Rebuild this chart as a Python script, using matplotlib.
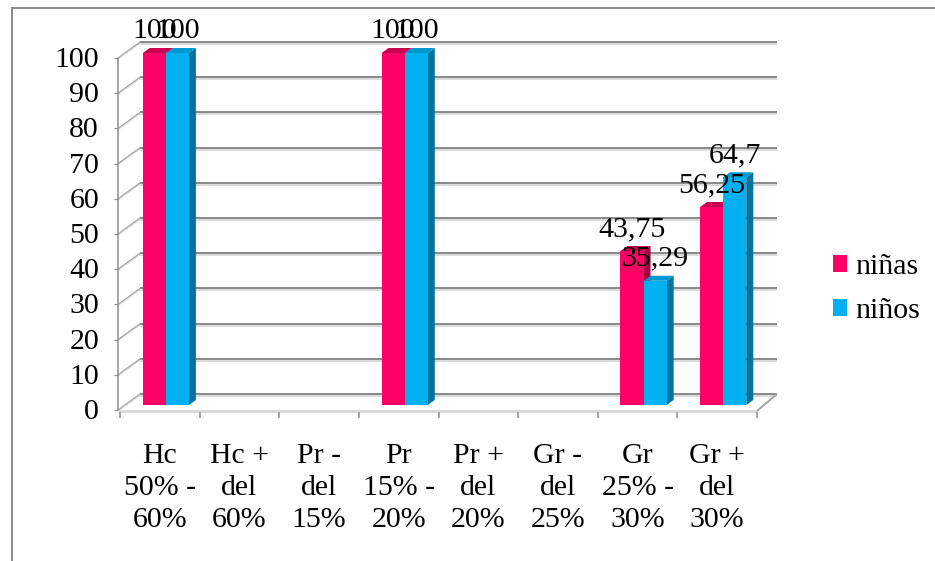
import numpy as np
import matplotlib
matplotlib.use("Agg")
import matplotlib.pyplot as plt
from matplotlib.patches import Polygon, Patch
from matplotlib.lines import Line2D

# ---- data ----
categories = ["Hc\n50% -\n60%", "Hc +\ndel\n60%", "Pr -\ndel\n15%", "Pr\n15% -\n20%",
              "Pr +\ndel\n20%", "Gr -\ndel\n25%", "Gr\n25% -\n30%", "Gr +\ndel\n30%"]
ninas = [100, np.nan, np.nan, 100, np.nan, np.nan, 43.75, 56.25]
ninos = [100, np.nan, np.nan, 100, np.nan, np.nan, 35.29, 64.7]
series_names = ["niñas", "niños"]
y_ticks = list(range(0, 101, 10))

# ---- styles ----
plt.rcParams["font.family"] = ["Liberation Serif", "DejaVu Serif"]
FS = 21.5
FRONT = ["#FF0066", "#00B0F0"]
TOP = ["#C8004F", "#0096CF"]
SIDE = ["#A80045", "#00739E"]
GRID = "#8C8C8C"
GRID_LIGHT = "#DADADA"
PX = 0.72  # one pixel in points at 100 dpi

W, H = 935, 561
fig = plt.figure(figsize=(W / 100, H / 100), dpi=100)
fig.patch.set_facecolor("white")

# front plane of the 3-D box (pixel layout of the plot area)
X0, X1 = 120, 757
Y0, Y1 = 410, 58
ax = fig.add_axes([X0 / W, 1 - Y0 / H, (X1 - X0) / W, (Y0 - Y1) / H])
n = len(categories)
ax.set_xlim(0, n)
ax.set_ylim(0, 100)
ax.axis("off")

UX = n / (X1 - X0)
UY = 100 / (Y0 - Y1)


def P(x, y, dx=0.0, dy=0.0):
    """data point shifted by a pixel offset (dy positive = up)"""
    return (x + dx * UX, y + dy * UY)


def seg(p, q, **kw):
    ax.plot([p[0], q[0]], [p[1], q[1]], clip_on=False, solid_capstyle="butt", **kw)


DX, DY = 20, 16      # depth of the box
BX, BY = 6, 5        # plane where the columns stand
bdx, bdy = 7, 5      # depth of a column

# back wall gridlines
for v in y_ticks:
    seg(P(0, v, DX, DY - 2), P(n, v, DX, DY - 2), color=GRID_LIGHT, lw=2 * PX, zorder=1)
    seg(P(0, v, DX, DY), P(n, v, DX, DY), color=GRID, lw=2 * PX, zorder=1.1)
    # side wall lines
    seg(P(0, v, -2, -1), P(0, v, DX, DY - 1), color=GRID_LIGHT, lw=1.5 * PX, zorder=1)
    seg(P(0, v, -2, 0), P(0, v, DX, DY), color="#A6A6A6", lw=1.2 * PX, zorder=1.1)

# floor
seg(P(0, 0, -2, -1), P(n, 0, 0, -1), color=GRID_LIGHT, lw=3 * PX, zorder=1.2)
seg(P(n, 0, 0, -1), P(n, 0, DX, DY), color="#A6A6A6", lw=2 * PX, zorder=1.2)

# front value axis
seg(P(0, 0, -2, 0), P(0, 100, -2, 0), color=GRID, lw=1.5 * PX, zorder=5)
for v in y_ticks:
    seg(P(0, v, -6, 0), P(0, v, -2, 0), color=GRID, lw=1.2 * PX, zorder=5)
    ax.text(*P(0, v, -21, -2), str(v), ha="right", va="center", fontsize=FS, zorder=6)

# category ticks and labels
for i in range(n + 1):
    seg(P(i, 0, 0, -2), P(i, 0, 0, -8), color=GRID, lw=1.5 * PX, zorder=5)
for i, lab in enumerate(categories):
    ax.text(*P(i + 0.5, 0, 0, -78), lab, ha="center", va="center",
            multialignment="center", linespacing=1.3, fontsize=FS, zorder=6)


def fmt(v):
    return f"{v:g}".replace(".", ",")


# columns
slots = [(0.21, 0.50), (0.50, 0.79)]
for i in range(n):
    for s, vals in enumerate([ninas, ninos]):
        v = vals[i]
        if np.isnan(v):
            continue
        xa, xb = i + slots[s][0], i + slots[s][1]
        z = 10 + i + s * 0.5
        side = [P(xb, 0, BX, BY), P(xb, 0, BX + bdx, BY + bdy),
                P(xb, v, BX + bdx, BY + bdy), P(xb, v, BX, BY)]
        top = [P(xa, v, BX, BY), P(xb, v, BX, BY),
               P(xb, v, BX + bdx, BY + bdy), P(xa, v, BX + bdx, BY + bdy)]
        front = [P(xa, 0, BX, BY), P(xb, 0, BX, BY), P(xb, v, BX, BY), P(xa, v, BX, BY)]
        for poly, col, dz in [(side, SIDE[s], 0), (top, TOP[s], 0.01), (front, FRONT[s], 0.02)]:
            ax.add_patch(Polygon(poly, closed=True, facecolor=col, edgecolor="none",
                                 clip_on=False, zorder=z + dz))
        ax.text(*P((xa + xb) / 2, v, BX, BY + 22), fmt(v), ha="center", va="center",
                fontsize=FS, zorder=30)

# legend
handles = [Patch(facecolor=FRONT[k], edgecolor="none", label=series_names[k]) for k in range(2)]
ax.legend(handles=handles, loc="center left", bbox_to_anchor=(833 / W, 1 - 289 / H),
          bbox_transform=fig.transFigure, frameon=False, borderpad=0, borderaxespad=0,
          handlelength=0.47, handleheight=0.47, handletextpad=0.27, labelspacing=0.6,
          prop={"size": FS})

# chart area border
fig.add_artist(Line2D([12 / W, 12 / W], [0, 1 - 8 / H], transform=fig.transFigure,
                      color=GRID, lw=2 * PX))
fig.add_artist(Line2D([12 / W, 1], [1 - 8 / H, 1 - 8 / H], transform=fig.transFigure,
                      color=GRID, lw=2 * PX))

fig.savefig("out.png", dpi=100, facecolor="white")
